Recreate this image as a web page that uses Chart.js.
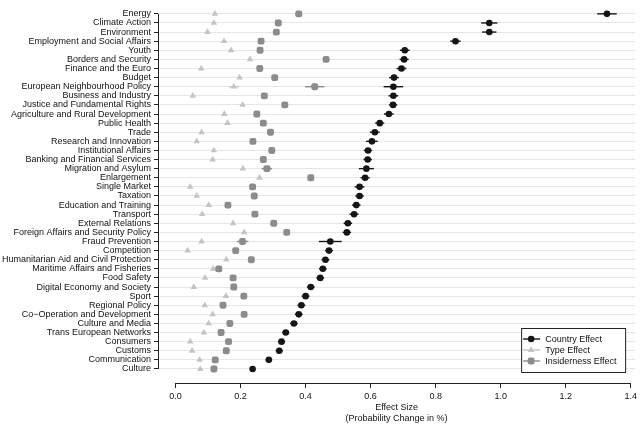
<!DOCTYPE html>
<html>
<head>
<meta charset="utf-8">
<script src="https://cdn.jsdelivr.net/npm/chart.js@4.4.0/dist/chart.umd.min.js"></script>
<style>
  html, body { margin: 0; padding: 0; background: #fff; }
  #wrap { width: 640px; height: 424px; }
</style>
</head>
<body>
<div id="wrap"><canvas id="effects"></canvas></div>
<script>
// Policy areas, top to bottom
const policyAreas = [
  "Energy", "Climate Action", "Environment", "Employment and Social Affairs", "Youth",
  "Borders and Security", "Finance and the Euro", "Budget", "European Neighbourhood Policy",
  "Business and Industry", "Justice and Fundamental Rights", "Agriculture and Rural Development",
  "Public Health", "Trade", "Research and Innovation", "Institutional Affairs",
  "Banking and Financial Services", "Migration and Asylum", "Enlargement", "Single Market",
  "Taxation", "Education and Training", "Transport", "External Relations",
  "Foreign Affairs and Security Policy", "Fraud Prevention", "Competition",
  "Humanitarian Aid and Civil Protection", "Maritime Affairs and Fisheries", "Food Safety",
  "Digital Economy and Society", "Sport", "Regional Policy", "Co\u2212Operation and Development",
  "Culture and Media", "Trans European Networks", "Consumers", "Customs", "Communication", "Culture"
];

const countryEffect = [
  1.327, 0.965, 0.965, 0.861, 0.705, 0.703, 0.695, 0.672, 0.670, 0.670,
  0.669, 0.656, 0.628, 0.613, 0.604, 0.592, 0.591, 0.587, 0.583, 0.566,
  0.566, 0.556, 0.549, 0.530, 0.527, 0.476, 0.472, 0.461, 0.453, 0.445,
  0.416, 0.400, 0.387, 0.379, 0.364, 0.339, 0.326, 0.319, 0.287, 0.237
];
const countryErr = [
  0.030, 0.025, 0.022, 0.016, 0.015, 0.014, 0.015, 0.015, 0.030, 0.015,
  0.013, 0.015, 0.014, 0.015, 0.018, 0.013, 0.013, 0.023, 0.014, 0.015,
  0.013, 0.013, 0.014, 0.013, 0.013, 0.035, 0.012, 0.012, 0.012, 0.012,
  0.012, 0.012, 0.012, 0.012, 0.012, 0.011, 0.011, 0.011, 0.010, 0.008
];

const typeEffect = [
  0.121, 0.118, 0.098, 0.149, 0.171, 0.229, 0.079, 0.197, 0.179, 0.053,
  0.206, 0.150, 0.160, 0.080, 0.065, 0.118, 0.114, 0.207, 0.258, 0.045,
  0.065, 0.102, 0.082, 0.177, 0.211, 0.080, 0.037, 0.156, 0.116, 0.091,
  0.056, 0.155, 0.090, 0.114, 0.102, 0.087, 0.045, 0.051, 0.074, 0.076
];
const typeErr = [
  0.005, 0.005, 0.005, 0.005, 0.005, 0.005, 0.005, 0.005, 0.015, 0.005,
  0.005, 0.005, 0.005, 0.005, 0.005, 0.005, 0.005, 0.006, 0.005, 0.005,
  0.005, 0.005, 0.005, 0.005, 0.005, 0.005, 0.005, 0.005, 0.005, 0.005,
  0.005, 0.005, 0.005, 0.005, 0.005, 0.005, 0.005, 0.005, 0.005, 0.005
];

const insiderEffect = [
  0.379, 0.316, 0.310, 0.263, 0.260, 0.463, 0.259, 0.305, 0.428, 0.273,
  0.336, 0.250, 0.270, 0.292, 0.238, 0.296, 0.270, 0.281, 0.416, 0.237,
  0.242, 0.161, 0.244, 0.302, 0.342, 0.206, 0.185, 0.233, 0.133, 0.177,
  0.179, 0.210, 0.146, 0.211, 0.167, 0.140, 0.163, 0.156, 0.122, 0.118
];
const insiderErr = [
  0.010, 0.008, 0.008, 0.007, 0.007, 0.010, 0.007, 0.007, 0.030, 0.007,
  0.007, 0.007, 0.007, 0.007, 0.007, 0.007, 0.007, 0.016, 0.008, 0.007,
  0.007, 0.007, 0.007, 0.007, 0.007, 0.018, 0.007, 0.007, 0.007, 0.007,
  0.007, 0.007, 0.007, 0.007, 0.007, 0.007, 0.007, 0.007, 0.007, 0.007
];

const xTicks = [0.0, 0.2, 0.4, 0.6, 0.8, 1.0, 1.2, 1.4];
const xTitle = ["Effect Size", "(Probability Change in %)"];

Chart.defaults.font.family = "'Liberation Sans', Arial, Helvetica, sans-serif";
Chart.defaults.font.size = 9;
Chart.defaults.color = "#111";

const toPoints = (values) => values.map((v, i) => ({ x: v, y: i }));

// horizontal confidence intervals
const errorBars = {
  id: "errorBars",
  beforeDatasetsDraw(chart) {
    const { ctx, scales: { x, y } } = chart;
    chart.data.datasets.forEach((ds) => {
      ctx.save();
      ctx.strokeStyle = ds.borderColor;
      ctx.lineWidth = 1.4;
      ds.data.forEach((p, j) => {
        const e = ds.errors[j];
        const py = y.getPixelForValue(p.y);
        ctx.beginPath();
        ctx.moveTo(x.getPixelForValue(p.x - e), py);
        ctx.lineTo(x.getPixelForValue(p.x + e), py);
        ctx.stroke();
      });
      ctx.restore();
    });
  }
};

// R style axis lines that stop at the first and last tick
const axisLines = {
  id: "axisLines",
  afterDraw(chart) {
    const { ctx, chartArea, scales: { x, y } } = chart;
    ctx.save();
    ctx.strokeStyle = "#222";
    ctx.lineWidth = 1;
    ctx.beginPath();
    ctx.moveTo(chartArea.left + 0.5, y.getPixelForValue(0));
    ctx.lineTo(chartArea.left + 0.5, y.getPixelForValue(policyAreas.length - 1));
    ctx.moveTo(x.getPixelForValue(xTicks[0]), chartArea.bottom + 0.5);
    ctx.lineTo(x.getPixelForValue(xTicks[xTicks.length - 1]), chartArea.bottom + 0.5);
    ctx.stroke();
    ctx.restore();
  }
};

// boxed legend in the lower right corner of the plot
const boxLegend = {
  id: "boxLegend",
  afterDraw(chart) {
    const { ctx, chartArea } = chart;
    const w = 104, h = 44;
    const left = chartArea.right - 10 - w;
    const top = chartArea.bottom - 11 - h;
    ctx.save();
    ctx.fillStyle = "#fff";
    ctx.fillRect(left, top, w, h);
    ctx.strokeStyle = "#222";
    ctx.lineWidth = 1;
    ctx.strokeRect(left + 0.5, top + 0.5, w, h);
    ctx.font = "9px 'Liberation Sans', Arial, sans-serif";
    ctx.textBaseline = "middle";
    chart.data.datasets.slice().reverse().forEach((ds, i) => {
      const yy = top + 11 + i * 11;
      ctx.strokeStyle = ds.borderColor;
      ctx.fillStyle = ds.backgroundColor;
      ctx.lineWidth = 1.4;
      ctx.beginPath();
      ctx.moveTo(left + 2, yy);
      ctx.lineTo(left + 19, yy);
      ctx.stroke();
      Chart.helpers.drawPoint(ctx, {
        pointStyle: ds.pointStyle, radius: ds.pointRadius, borderWidth: 0, rotation: 0
      }, left + 10, yy);
      ctx.fillStyle = "#111";
      ctx.fillText(ds.label, left + 24, yy + 0.5);
    });
    ctx.restore();
  }
};

new Chart(document.getElementById("effects"), {
  type: "scatter",
  data: {
    datasets: [
      {
        label: "Insiderness Effect",
        data: toPoints(insiderEffect),
        errors: insiderErr,
        pointStyle: "rectRounded",
        pointRadius: 4,
        borderWidth: 0,
        backgroundColor: "#8c8c8c",
        borderColor: "#8c8c8c"
      },
      {
        label: "Type Effect",
        data: toPoints(typeEffect),
        errors: typeErr,
        pointStyle: "triangle",
        pointRadius: 3.8,
        borderWidth: 0,
        backgroundColor: "#c4c4c4",
        borderColor: "#c4c4c4"
      },
      {
        label: "Country Effect",
        data: toPoints(countryEffect),
        errors: countryErr,
        pointStyle: "circle",
        pointRadius: 3.3,
        borderWidth: 0,
        backgroundColor: "#151515",
        borderColor: "#151515"
      }
    ]
  },
  options: {
    responsive: true,
    maintainAspectRatio: false,
    animation: false,
    layout: { padding: { top: 5, right: 4, left: 0, bottom: 0 } },
    plugins: {
      legend: { display: false },
      tooltip: { enabled: false }
    },
    scales: {
      x: {
        type: "linear",
        min: -0.054,
        max: 1.4136,
        border: { display: false },
        grid: { drawOnChartArea: false, tickLength: 5, tickColor: "#222" },
        ticks: { padding: 3, callback: (v) => v.toFixed(1) },
        afterBuildTicks: (axis) => { axis.ticks = xTicks.map((v) => ({ value: v })); },
        afterFit: (axis) => { axis.height = 41; },
        title: { display: true, text: xTitle, padding: { top: 0, bottom: 0 } }
      },
      y: {
        type: "linear",
        reverse: true,
        min: -0.6,
        max: 40.54,
        border: { display: false },
        grid: { color: "#e6e6e6", tickLength: 4, tickColor: "#222" },
        ticks: { padding: 3, autoSkip: false, callback: (v) => policyAreas[v] },
        afterBuildTicks: (axis) => { axis.ticks = policyAreas.map((_, i) => ({ value: i })); },
        afterFit: (axis) => { axis.width = 158; }
      }
    }
  },
  plugins: [errorBars, axisLines, boxLegend]
});
</script>
</body>
</html>
